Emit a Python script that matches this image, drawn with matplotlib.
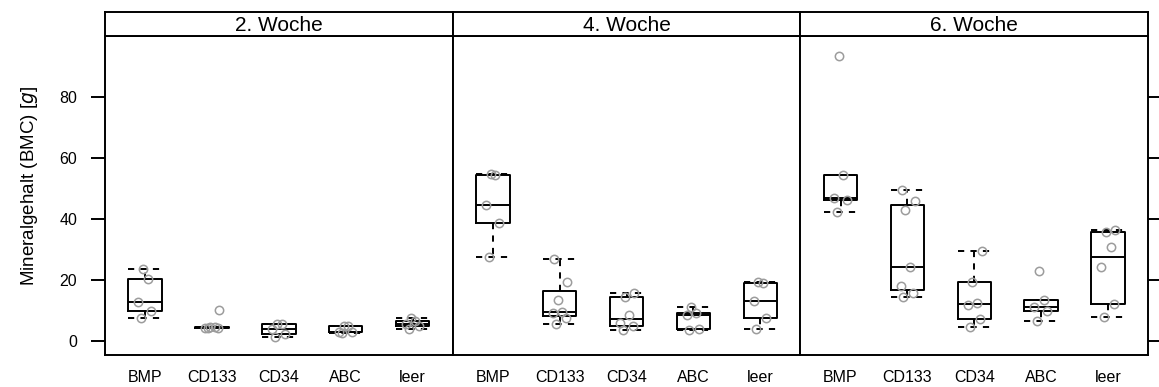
import math
import matplotlib
matplotlib.use('Agg')
import matplotlib.pyplot as plt

plt.rcParams['font.family'] = ['Liberation Sans', 'DejaVu Sans']

# data (g), one list per group, groups in order
weeks = ['2. Woche', '4. Woche', '6. Woche']
groups = ['BMP', 'CD133', 'CD34', 'ABC', 'leer']

woche2 = [[7.5, 9.7, 12.6, 20.1, 23.5],
          [4.0, 4.2, 4.3, 4.4, 4.5, 10.2],
          [1.3, 2.1, 3.8, 5.4, 5.6],
          [2.6, 2.7, 2.8, 4.8, 4.9],
          [3.8, 4.8, 5.5, 6.5, 7.4]]
woche4 = [[27.3, 38.5, 44.5, 54.2, 54.6],
          [5.5, 7.3, 9.1, 9.3, 13.3, 19.4, 26.9],
          [3.4, 4.9, 5.7, 8.4, 14.2, 15.6],
          [3.6, 3.8, 8.5, 9.0, 10.9],
          [3.7, 7.3, 13.1, 19.0, 19.2]]
woche6 = [[42.1, 46.0, 46.7, 54.3, 93.4],
          [14.4, 15.6, 17.9, 24.1, 42.9, 45.9, 49.4],
          [4.4, 7.2, 11.6, 12.4, 19.3, 29.4],
          [6.4, 9.6, 11.0, 13.3, 22.9],
          [7.6, 12.0, 24.3, 30.8, 35.6, 36.2]]
yticks = [0, 20, 40, 60, 80]


def fivenum(v):
    # Tukey hinges like R's fivenum
    x = sorted(v)
    n = len(x)
    n4 = math.floor((n + 3) / 2) / 2
    d = [1, n4, (n + 1) / 2, n + 1 - n4, n]
    return [0.5 * (x[math.floor(i - 1)] + x[math.ceil(i - 1)]) for i in d]


def box_stats(v):
    lo, q1, med, q3, hi = fivenum(v)
    r = 1.5 * (q3 - q1)
    inside = [a for a in v if q1 - r <= a <= q3 + r]
    return dict(med=med, q1=q1, q3=q3, whislo=min(inside), whishi=max(inside), fliers=[])


W, H = 1159, 387
fig = plt.figure(figsize=(W / 100, H / 100), dpi=100)

left, pw = 105, 347.7
ptop, pbot, stop = 36, 355, 12
jit = [-0.06, 0.09, -0.10, 0.04, -0.03, 0.11, -0.08]
lw = 1.4
dash = (0, (3.2, 3.2))

for k, (wk, data) in enumerate(zip(weeks, [woche2, woche4, woche6])):
    x0 = left + k * pw
    ax = fig.add_axes([x0 / W, 1 - pbot / H, pw / W, (pbot - ptop) / H])
    stats = [box_stats(v) for v in data]
    pos = list(range(1, len(groups) + 1))
    ax.bxp(stats, positions=pos, widths=0.5, capwidths=0.5, showfliers=False,
           boxprops=dict(color='black', lw=lw),
           medianprops=dict(color='black', lw=lw),
           whiskerprops=dict(color='black', lw=lw, linestyle=dash),
           capprops=dict(color='black', lw=lw, linestyle=dash))
    for p, v in zip(pos, data):
        xs = [p + jit[i % len(jit)] for i in range(len(v))]
        ax.plot(xs, v, 'o', mfc='none', mec='#9c9c9c', ms=6, mew=1.1, zorder=5)
    ax.set_xlim(0.4, 5.6)
    ax.set_ylim(-4.7, 99.9)
    ax.set_xticks(pos)
    ax.set_xticklabels(groups, fontsize=11.5)
    ax.tick_params(axis='x', length=0, pad=11)
    ax.set_yticks(yticks)
    if k == 0:
        ax.tick_params(axis='y', direction='out', length=10, width=lw, pad=10,
                       labelsize=11.5, left=True, right=False)
    elif k == 2:
        ax.tick_params(axis='y', direction='out', length=10, width=lw,
                       left=False, right=True, labelleft=False)
    else:
        ax.tick_params(axis='y', left=False, labelleft=False)
    for s in ax.spines.values():
        s.set_linewidth(lw)

    # strip on top of each panel
    sx = fig.add_axes([x0 / W, 1 - ptop / H, pw / W, (ptop - stop) / H])
    sx.set_xticks([])
    sx.set_yticks([])
    for s in sx.spines.values():
        s.set_linewidth(lw)
    sx.text(0.5, 0.45, wk, ha='center', va='center', fontsize=15, transform=sx.transAxes)

fig.text(30 / W, 1 - 186 / H, 'Mineralgehalt (BMC) [$\\it{g}$]', rotation=90,
         ha='center', va='center', fontsize=13.5)

fig.savefig('out.png', dpi=100)
